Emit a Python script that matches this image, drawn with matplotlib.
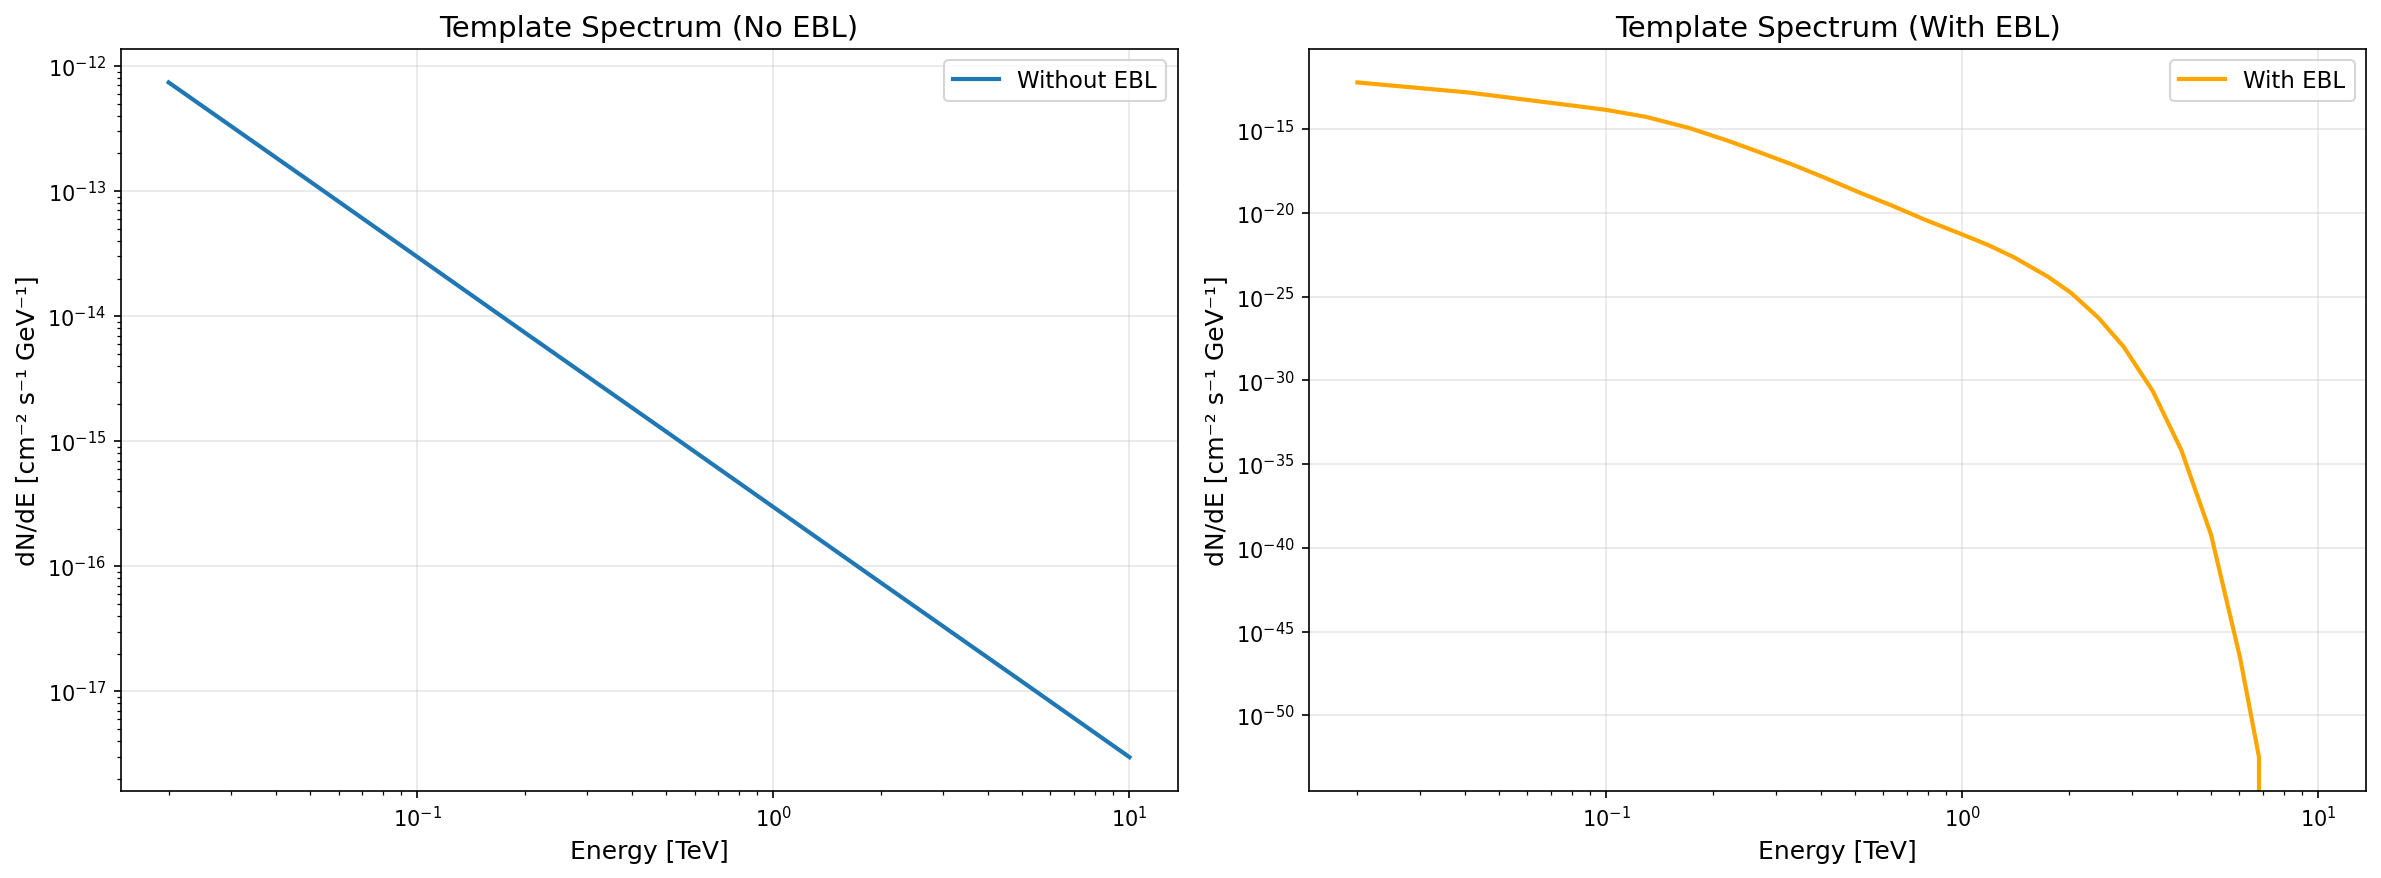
import numpy as np
import matplotlib
matplotlib.use("Agg")
import matplotlib.pyplot as plt

# Spectrum without EBL (straight power law in log-log)
energy_noebl = [0.02, 0.05, 0.1, 0.2, 0.5, 1.0, 2.0, 5.0, 10.0]
flux_noebl = [7.4e-13, 1.19e-13, 2.97e-14, 7.4e-15, 1.19e-15, 2.97e-16, 7.4e-17, 1.19e-17, 2.97e-18]

# Spectrum with EBL absorption (log10 values, zero past the cutoff)
energy_ebl = [0.02, 0.041, 0.0838, 0.1, 0.129, 0.171, 0.221, 0.268, 0.333, 0.412,
              0.511, 0.634, 0.786, 1.0, 1.18, 1.40, 1.74, 2.02, 2.41, 2.84,
              3.43, 4.13, 5.0, 6.03, 6.82, 6.9, 10.0]
log_flux_ebl = [-12.2, -12.8, -13.63, -13.84, -14.25, -14.92, -15.7, -16.35, -17.1, -17.9,
                -18.75, -19.55, -20.4, -21.28, -21.9, -22.65, -23.8, -24.76, -26.24, -27.98,
                -30.63, -34.18, -39.2, -46.53, -52.5, None, None]
flux_ebl = [10.0 ** v if v is not None else 0.0 for v in log_flux_ebl]

fig, (ax1, ax2) = plt.subplots(1, 2, figsize=(16, 6))

ax1.loglog(energy_noebl, flux_noebl, color="#1f77b4", lw=2, label="Without EBL")
ax1.set_xlabel("Energy [TeV]", fontsize=12)
ax1.set_ylabel("dN/dE [cm⁻² s⁻¹ GeV⁻¹]", fontsize=12)
ax1.set_title("Template Spectrum (No EBL)", fontsize=14)
ax1.grid(True, alpha=0.3)
ax1.legend(fontsize=11, loc="upper right")

ax2.plot(energy_ebl, flux_ebl, color="orange", lw=2, label="With EBL")
ax2.set_xscale("log")
ax2.set_yscale("log")
ax2.set_xlabel("Energy [TeV]", fontsize=12)
ax2.set_ylabel("dN/dE [cm⁻² s⁻¹ GeV⁻¹]", fontsize=12)
ax2.set_title("Template Spectrum (With EBL)", fontsize=14)
ax2.grid(True, alpha=0.3)
ax2.legend(fontsize=11, loc="upper right")

plt.tight_layout()
plt.savefig("out.png", dpi=150, bbox_inches="tight")
